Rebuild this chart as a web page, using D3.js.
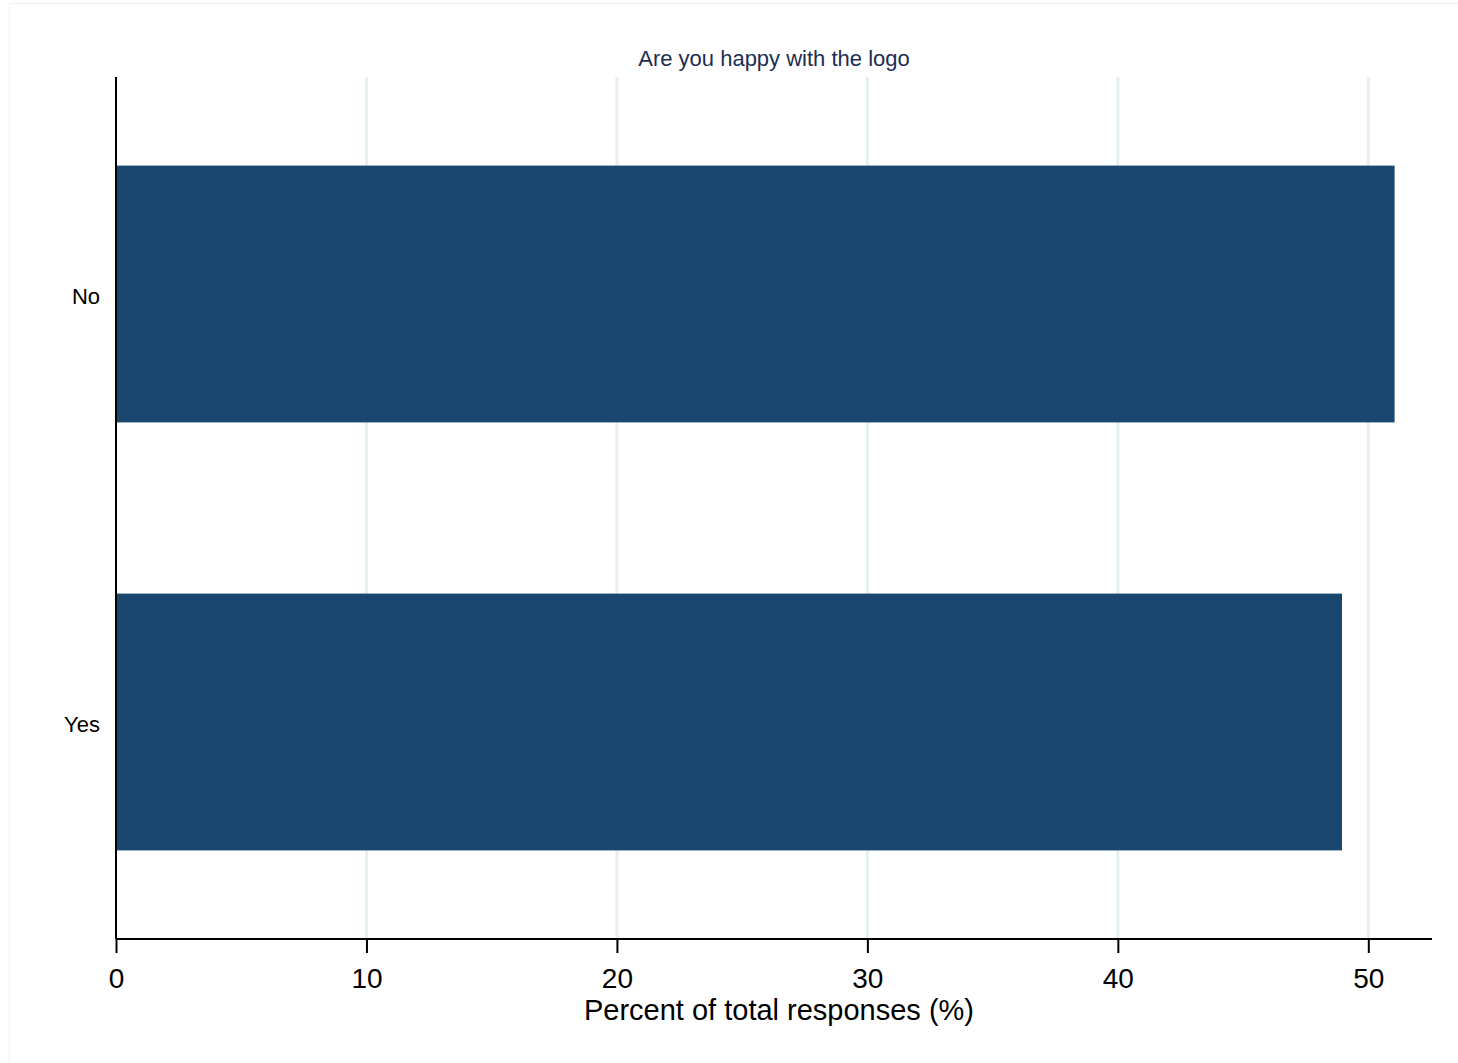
<!DOCTYPE html>
<html>
<head>
<meta charset="utf-8">
<script src="https://cdn.jsdelivr.net/npm/d3@7"></script>
<style>
  html, body { margin: 0; padding: 0; background: #fff; }
  svg { display: block; }
  text { font-family: "Liberation Sans", Arial, sans-serif; }
</style>
</head>
<body>
<svg id="chart" width="1458" height="1063"></svg>
<script>
const categories = ["No", "Yes"];
const values = [51.05, 48.95];
const xTicks = [0, 10, 20, 30, 40, 50];
const title = "Are you happy with the logo";
const xTitle = "Percent of total responses (%)";

const W = 1458, H = 1063;
const m = { left: 116, right: 1432, top: 77, bottom: 939 };
const svg = d3.select("#chart");

// faint outer frame
svg.append("line").attr("x1", 9).attr("x2", W).attr("y1", 3.5).attr("y2", 3.5)
  .attr("stroke", "#eef4f4").attr("stroke-width", 1.5);
svg.append("line").attr("x1", 9.5).attr("x2", 9.5).attr("y1", 3).attr("y2", H)
  .attr("stroke", "#f3f6f6").attr("stroke-width", 1.5);

const x = d3.scaleLinear().domain([0, 50]).range([116, 1368.3]);
const y = d3.scaleBand().domain(categories).range([m.top, m.bottom])
  .paddingInner(0.4).paddingOuter(0.207);

// gridlines
svg.append("g").selectAll("line").data(xTicks.filter(d => d > 0)).join("line")
  .attr("x1", d => x(d)).attr("x2", d => x(d))
  .attr("y1", m.top).attr("y2", m.bottom)
  .attr("stroke", "#e6eff1").attr("stroke-width", 3);

// bars
svg.append("g").selectAll("rect").data(categories).join("rect")
  .attr("x", x(0)).attr("y", d => y(d))
  .attr("width", (d, i) => x(values[i]) - x(0))
  .attr("height", y.bandwidth())
  .attr("fill", "#1a476f");

// x axis
const xAxis = svg.append("g").attr("transform", `translate(0,${m.bottom})`)
  .call(d3.axisBottom(x).tickValues(xTicks).tickSize(14).tickPadding(15).tickFormat(d3.format("d")));
xAxis.select(".domain").attr("d", `M${m.left},0H${m.right}`).attr("stroke", "#000").attr("stroke-width", 2);
xAxis.selectAll(".tick line").attr("stroke", "#000").attr("stroke-width", 2);
xAxis.selectAll(".tick text").attr("font-size", 28).attr("fill", "#000")
  .attr("font-family", "Liberation Sans, Arial, sans-serif");

// y axis
const yAxis = svg.append("g").attr("transform", `translate(${m.left},0)`)
  .call(d3.axisLeft(y).tickSize(0).tickPadding(16));
yAxis.select(".domain").attr("d", `M0,${m.top}V${m.bottom}`).attr("stroke", "#000").attr("stroke-width", 2);
yAxis.selectAll(".tick text").attr("font-size", 22).attr("fill", "#000")
  .attr("dy", "0.45em")
  .attr("font-family", "Liberation Sans, Arial, sans-serif");

// titles
svg.append("text").attr("x", 774).attr("y", 66).attr("text-anchor", "middle")
  .attr("font-size", 22).attr("fill", "#1e2d52").text(title);
svg.append("text").attr("x", 779).attr("y", 1020).attr("text-anchor", "middle")
  .attr("font-size", 29).attr("fill", "#000").text(xTitle);
</script>
</body>
</html>
